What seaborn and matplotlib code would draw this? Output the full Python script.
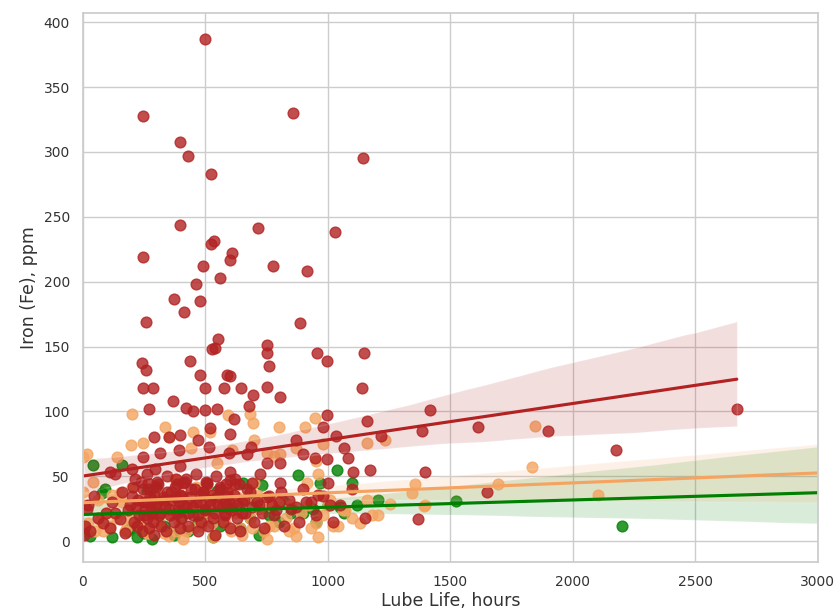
import numpy as np
import pandas as pd
import matplotlib
matplotlib.use("Agg")
import matplotlib.pyplot as plt
import seaborn as sns

# ---- data ----
red_x = [498, 245, 857, 396, 429, 1143, 522, 396, 1029, 714, 535, 522, 245, 608, 600, 490, 776, 914, 559, 461,
         478, 371, 412, 886, 257, 551, 527, 540, 751, 751, 759, 955, 996, 1147, 1139, 241, 257, 437, 478, 588,
         600, 245, 286, 498, 576, 645, 694, 751, 804, 367, 269, 420, 449, 498, 547, 678, 996, 980, 1159, 1416,
         1384, 1612, 1216, 616, 518, 600, 290, 351, 396, 469, 514, 686, 869, 1033, 1065, 1082, 1102, 1171, 1396, 1367,
         245, 314, 392, 596, 669, 751, 804, 898, 947, 996, 722, 804, 690, 110, 131, 200, 294, 396, 600, 600,
         1649, 1898, 2176, 2669,
         5, 10, 15, 30, 60, 80, 110, 130, 150, 170, 190, 200, 210, 220, 230, 240, 245, 250, 255, 260,
         265, 270, 275, 280, 285, 290, 295, 300, 310, 320, 330, 340, 350, 360, 370, 380, 385, 390, 395, 400,
         405, 410, 420, 430, 440, 450, 460, 470, 480, 490, 500, 505, 510, 520, 530, 540, 550, 560, 570, 580,
         590, 600, 610, 620, 630, 640, 650, 660, 680, 700, 720, 740, 760, 780, 800, 820, 850, 880, 900, 930,
         950, 980, 1000, 1020, 1050, 1100, 1150,
         20, 45, 95, 120, 160, 185, 205, 215, 225, 235, 248, 258, 268, 278, 288, 298, 305, 315, 325, 335,
         345, 355, 365, 375, 388, 398, 408, 418, 428, 438, 448, 458, 468, 478, 488, 498, 508, 518, 528, 538,
         548, 558, 568, 578, 588, 598, 608, 618, 628, 638, 648, 658, 668, 690, 710, 730, 750, 770, 790, 810,
         840, 870, 910, 960, 1010, 212, 262, 302, 342, 382, 422, 462, 502, 542, 582, 622, 280, 380, 480, 580]
red_y = [387, 328, 330, 308, 297, 295, 283, 244, 238, 241, 231, 229, 219, 222, 217, 212, 212, 208, 203, 198,
         185, 187, 177, 168, 169, 156, 148, 149, 151, 145, 135, 145, 139, 145, 118, 137, 132, 139, 128, 128,
         127, 118, 118, 118, 118, 118, 113, 119, 111, 108, 102, 103, 100, 101, 102, 104, 97, 88, 93, 101,
         85, 88, 81, 94, 87, 83, 80, 80, 82, 78, 73, 73, 78, 81, 72, 64, 53, 55, 53, 17,
         65, 68, 70, 68, 67, 60, 60, 67, 64, 63, 52, 45, 45, 53, 52, 56, 56, 58, 53, 47,
         38, 85, 70, 102,
         5, 12, 25, 8, 18, 14, 10, 22, 17, 6, 28, 35, 15, 12, 20, 8, 40, 30, 25, 18,
         45, 10, 35, 22, 15, 5, 28, 42, 20, 12, 32, 8, 25, 38, 15, 48, 22, 30, 10, 18,
         35, 45, 26, 12, 40, 20, 30, 8, 15, 38, 25, 45, 12, 32, 18, 5, 28, 40, 15, 22,
         35, 10, 26, 44, 18, 8, 30, 22, 38, 15, 28, 10, 35, 20, 30, 12, 25, 15, 40, 30,
         20, 35, 45, 15, 28, 40, 18,
         28, 35, 22, 30, 38, 24, 42, 26, 32, 46, 20, 30, 40, 24, 36, 28, 44, 22, 34, 26,
         38, 20, 32, 42, 24, 36, 28, 46, 22, 34, 26, 40, 20, 30, 38, 24, 44, 28, 36, 22,
         34, 42, 26, 20, 38, 30, 24, 36, 28, 44, 22, 32, 40, 26, 30, 22, 34, 28, 24, 38,
         32, 26, 30, 36, 28, 48, 52, 46, 50, 44, 48, 52, 46, 50, 44, 48, 32, 34, 36, 30]

orange_x = [1845, 1833, 1694, 1355, 1343, 1392, 2102, 1159, 1233, 1204, 1253, 1159, 1396,
            0, 0, 16, 139, 196, 200, 245, 335, 449, 592, 682, 694, 800, 906, 947, 980, 547, 751, 804, 959, 914,
            10, 20, 40, 60, 80, 100, 120, 140, 160, 180, 200, 215, 230, 250, 265, 280, 300, 315, 330, 345,
            360, 375, 390, 405, 420, 440, 460, 480, 500, 520, 540, 560, 580, 600, 620, 640, 660, 680, 700, 720,
            740, 760, 780, 800, 830, 860, 890, 920, 950, 980, 1010, 1040, 1070, 1100, 1130, 1180,
            150, 220, 290, 370, 430, 510, 570, 630, 710, 770, 850, 1000, 1060,
            50, 170, 260, 350, 410, 530, 650, 750, 870, 960,
            70, 110, 190, 240, 310, 380, 455, 525, 605, 690, 760, 840, 930, 1020,
            350, 440, 520, 610, 700, 780, 870, 950]
orange_y = [89, 57, 44, 44, 37, 27, 36, 76, 78, 20, 29, 32, 28,
            65, 38, 67, 65, 74, 98, 76, 88, 84, 97, 98, 91, 88, 88, 95, 75, 60, 68, 67, 52, 45,
            28, 14, 46, 32, 8, 22, 36, 18, 30, 11, 42, 24, 14, 32, 6, 21, 14, 36, 6, 26,
            22, 48, 15, 35, 8, 26, 42, 12, 20, 36, 5, 28, 15, 40, 22, 10, 32, 18, 45, 25,
            8, 28, 12, 32, 18, 10, 22, 28, 14, 20, 32, 12, 24, 18, 14, 20,
            37, 32, 30, 34, 28, 32, 27, 34, 36, 30, 28, 28, 24,
            8, 8, 6, 4, 2, 3, 5, 2, 4, 3,
            16, 12, 18, 12, 14, 8, 10, 14, 8, 10, 12, 8, 10, 12,
            80, 72, 84, 70, 78, 66, 72, 62]

green_x = [41, 159, 878, 1037, 1098, 1522, 2200, 78, 90, 261, 300, 547, 653, 731, 967, 1065, 1204, 8, 282,
           30, 120, 180, 220, 250, 330, 370, 400, 430, 470, 500, 530, 560, 600, 640, 680, 720, 760, 800, 850,
           900, 940, 1000, 190, 310, 420, 580, 700, 820, 1050, 1120, 950]
green_y = [59, 59, 51, 55, 45, 31, 12, 37, 40, 39, 42, 39, 45, 43, 45, 22, 32, 10, 2,
           4, 3, 8, 3, 6, 12, 5, 18, 8, 15, 22, 3, 12, 25, 10, 18, 5, 20, 15, 22,
           22, 25, 28, 10, 14, 26, 30, 32, 30, 26, 28, 15]

sns.set_theme(style="whitegrid")
plt.rcParams['font.family'] = ['DejaVu Sans']

fig = plt.figure(figsize=(8.38, 6.14), dpi=100)
ax = fig.add_axes([0.099, 0.0847, 0.877, 0.894])
ax.set_xlim(0, 3000)
ax.set_ylim(-16, 407)

green_df = pd.DataFrame({"x": green_x, "y": green_y})
orange_df = pd.DataFrame({"x": orange_x, "y": orange_y})
red_df = pd.DataFrame({"x": red_x, "y": red_y})

sns.regplot(data=green_df, x="x", y="y", color="green", truncate=False, seed=0, ax=ax,
            scatter_kws={"s": 60})
sns.regplot(data=orange_df, x="x", y="y", color="sandybrown", truncate=False, seed=0, ax=ax,
            scatter_kws={"s": 60})
sns.regplot(data=red_df, x="x", y="y", color="firebrick", truncate=True, seed=0, ax=ax,
            scatter_kws={"s": 60})

ax.set_xlim(0, 3000)
ax.set_ylim(-16, 407)
ax.set_xticks([0, 500, 1000, 1500, 2000, 2500, 3000])
ax.set_yticks([0, 50, 100, 150, 200, 250, 300, 350, 400])
ax.tick_params(labelsize=10, colors="#333333")
ax.set_xlabel("Lube Life, hours", fontsize=12.5, color="#333333", labelpad=2)
ax.set_ylabel("Iron (Fe), ppm", fontsize=12.5, color="#333333")

fig.savefig("out.png", dpi=100)
